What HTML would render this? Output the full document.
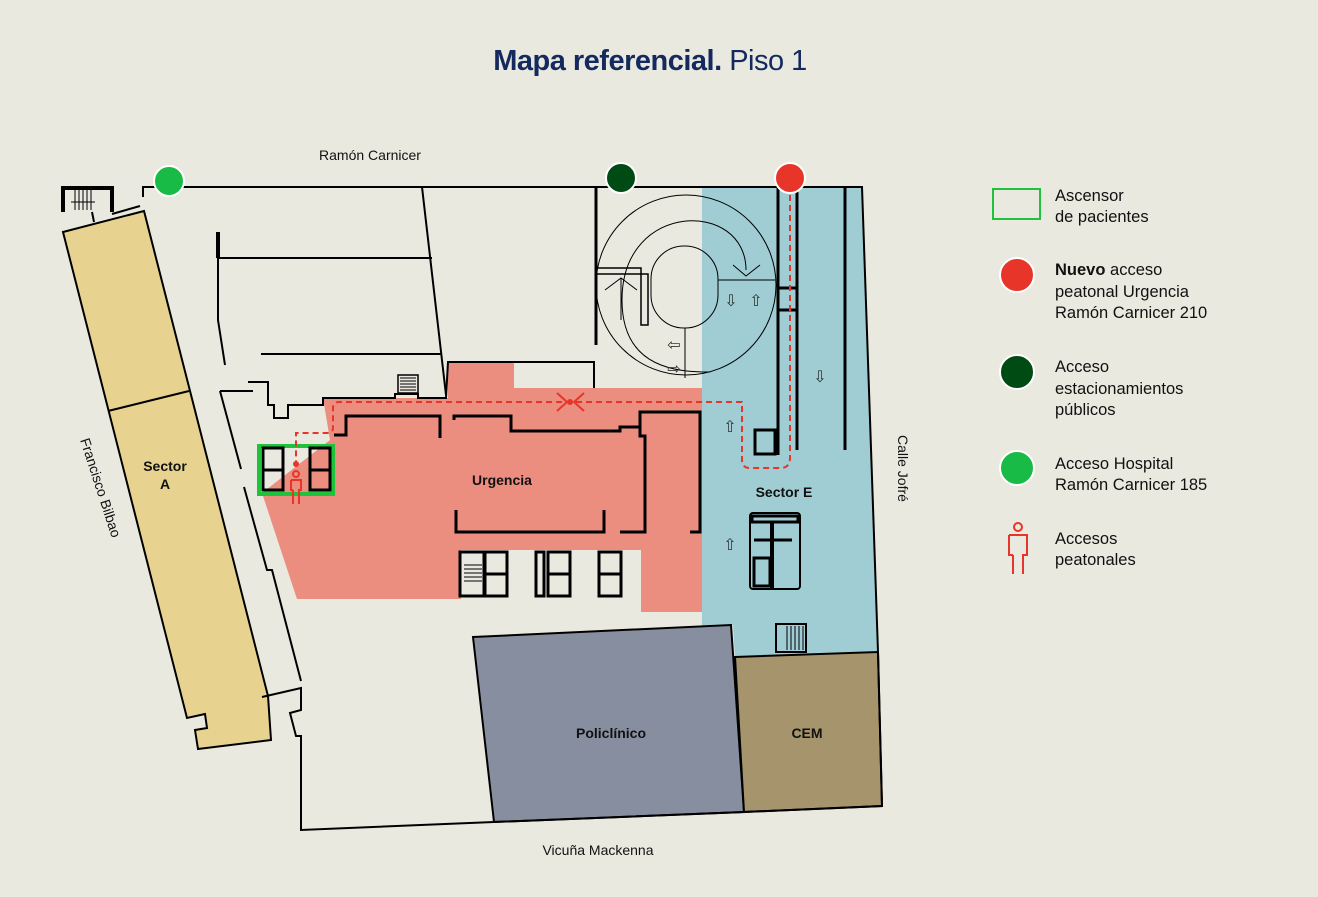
<!DOCTYPE html>
<html><head><meta charset="utf-8"><style>
body{margin:0;background:#eae9df;}
svg{display:block;font-family:"Liberation Sans",sans-serif;}
</style></head><body>
<svg width="1318" height="897" viewBox="0 0 1318 897" xmlns="http://www.w3.org/2000/svg">
<rect width="1318" height="897" fill="#eae9df"/>
<text x="650" y="70" text-anchor="middle" font-size="29" fill="#14295e" letter-spacing="-0.5"><tspan font-weight="bold">Mapa referencial.</tspan> Piso 1</text>

<!-- fills -->
<polygon points="63,232 144,211 268,696 271,740 198,749 195,730 207,728 205,714 187,718" fill="#e7d38f" stroke="#000" stroke-width="2"/>
<line x1="108" y1="411" x2="189" y2="391" stroke="#000" stroke-width="2"/>
<polygon points="323,398 448,398 448,362 514,362 514,388 702,388 702,612 641,612 641,550 461,550 461,599 297,599 262,493 330,440" fill="#eb8e80"/>
<polygon points="702,187 862,187 878,652 735,657 733,625 702,627" fill="#9fcdd3"/>
<path d="M702,195 A90,90 0 0 0 702,375 Z" fill="#eae9df"/>
<polygon points="473,637 731,625 744,812 494,822" fill="#878ea0" stroke="#000" stroke-width="2"/>
<polygon points="735,657 878,652 882,806 744,812" fill="#a6946c" stroke="#000" stroke-width="2"/>

<!-- outline -->
<g fill="none" stroke="#000" stroke-width="2">
<polyline points="143,197 143,187 862,187 878,652 882,806 744,812 494,822 301,830 301,736 296,736 290,713 301,710 301,688 262,697"/>
<polyline points="220,391 253,391"/>
<polyline points="220,391 241,469"/>
<polyline points="244,487 267,570 272,570 301,681"/>
<polyline points="422,187 446,395"/>
<polyline points="218,258 432,258"/>
<polyline points="218,258 218,320 225,365"/>
<polyline points="261,354 442,354"/>
<polyline points="248,382 268,382 268,405 274,405 274,418 288,418 288,405 323,405 323,398 395,398 395,394 418,394 418,398 446,398 448,362 594,362 594,388"/>
<rect x="398" y="375" width="20" height="18" stroke-width="1.5"/>
<path d="M400,378h16M400,381h16M400,384h16M400,387h16M400,390h16" stroke-width="1"/>
<line x1="596" y1="187" x2="596" y2="345" stroke-width="3"/>
<line x1="218" y1="232" x2="218" y2="258" stroke-width="4"/>
<polyline points="334,435 346,435 346,416 440,416 440,438" stroke-width="3"/>
<polyline points="454,420 454,416 511,416 511,431 620,431 620,427 640,427 640,412 700,412 700,532 690,532" stroke-width="3"/>
<polyline points="640,412 640,436 645,436 645,532 620,532" stroke-width="3"/>
<polyline points="456,510 456,532 604,532 604,510" stroke-width="3"/>
<g stroke-width="3">
<rect x="460" y="552" width="24" height="44"/><rect x="485" y="552" width="22" height="22"/><rect x="485" y="574" width="22" height="22"/>
<rect x="536" y="552" width="8" height="44"/><rect x="548" y="552" width="22" height="22"/><rect x="548" y="574" width="22" height="22"/>
<rect x="599" y="552" width="22" height="22"/><rect x="599" y="574" width="22" height="22"/>
</g>
<path d="M464,565h18M464,569h18M464,573h18M464,577h18M464,581h18" stroke-width="1"/>
<circle cx="686" cy="285" r="90" stroke-width="1"/>
<path d="M622,300 C622,200 746,200 746,270" stroke-width="1"/>
<path d="M622,300 C622,370 680,372 710,372" stroke-width="1"/>
<rect x="651" y="246" width="67" height="82" rx="33" stroke-width="1"/>
<polyline points="596,268 641,268 641,325 648,325 648,274 596,274" stroke-width="1.5"/>
<path d="M621,278 V320 M605,290 L621,278 L637,290" stroke-width="1"/>
<path d="M733,265 L746,276 L760,265" stroke-width="1"/>
<line x1="718" y1="280" x2="775" y2="280" stroke-width="1"/>
<line x1="685" y1="328" x2="685" y2="378" stroke-width="1"/>
<line x1="778" y1="187" x2="778" y2="455" stroke-width="3"/>
<line x1="797" y1="187" x2="797" y2="450" stroke-width="3"/>
<line x1="845" y1="187" x2="845" y2="450" stroke-width="3"/>
<line x1="778" y1="288" x2="797" y2="288" stroke-width="3"/>
<line x1="778" y1="310" x2="797" y2="310" stroke-width="3"/>
<rect x="755" y="430" width="20" height="24" stroke-width="3"/>
<rect x="750" y="513" width="50" height="76" rx="3" stroke-width="2"/>
<rect x="752" y="516" width="46" height="6" stroke-width="3"/>
<line x1="772" y1="522" x2="772" y2="588" stroke-width="4"/>
<line x1="754" y1="540" x2="792" y2="540" stroke-width="3"/>
<rect x="754" y="558" width="16" height="28" stroke-width="3"/>
<rect x="776" y="624" width="30" height="28" stroke-width="2"/>
<path d="M787,626v24M791,626v24M795,626v24M799,626v24M803,626v24" stroke-width="1"/>
</g>
<g fill="none" stroke="#000">
<polyline points="63,212 63,188 112,188 112,212" stroke-width="4"/>
<path d="M75,190v20M79,190v20M83,190v20M87,190v20M91,190v20M71,202h24" stroke-width="1"/>
<line x1="92" y1="212" x2="94" y2="222" stroke-width="2"/>
<line x1="112" y1="214" x2="140" y2="206" stroke-width="2"/>
</g>

<g font-size="16" fill="#333">
<text x="731" y="306" text-anchor="middle">⇩</text>
<text x="756" y="306" text-anchor="middle">⇧</text>
<text x="820" y="382" text-anchor="middle">⇩</text>
<text x="730" y="432" text-anchor="middle">⇧</text>
<text x="730" y="550" text-anchor="middle">⇧</text>
<text x="674" y="350" text-anchor="middle">⇦</text>
<text x="674" y="374" text-anchor="middle">⇨</text>
</g>

<rect x="259" y="446" width="74" height="48" fill="none" stroke="#1ec23c" stroke-width="4"/>
<g fill="none" stroke="#000" stroke-width="3"><rect x="263" y="448" width="20" height="42"/><line x1="263" y1="470" x2="283" y2="470"/><rect x="310" y="448" width="20" height="42"/><line x1="310" y1="470" x2="330" y2="470"/></g>

<g fill="none" stroke="#e8352a" stroke-width="2" stroke-dasharray="6,4">
<path d="M790,185 V458 Q790,468 780,468 H750 Q742,468 742,460 V402 H339 Q333,402 333,408 V428 Q333,433 327,433 H296 V462"/>
</g>
<g fill="none" stroke="#e8352a" stroke-width="2"><path d="M557,393 L567,402 L557,411 M584,393 L574,402 L584,411"/></g>
<circle cx="570" cy="402" r="3" fill="#e8352a"/>
<circle cx="296" cy="464" r="3" fill="#e8352a"/>
<g fill="none" stroke="#e8352a" stroke-width="2"><circle cx="296" cy="474" r="3"/><path d="M291,480h10v10h-2v14M293,490v14M291,480v10h2"/></g>

<circle cx="169" cy="181" r="15" fill="#17bb45" stroke="#fff" stroke-width="2"/>
<circle cx="621" cy="178" r="15" fill="#004a14" stroke="#fff" stroke-width="2"/>
<circle cx="790" cy="178" r="15" fill="#e8352a" stroke="#fff" stroke-width="2"/>

<g font-size="14" fill="#111">
<text x="370" y="160" text-anchor="middle">Ramón Carnicer</text>
<text x="598" y="855" text-anchor="middle">Vicuña Mackenna</text>
<text transform="translate(80,440) rotate(72)">Francisco Bilbao</text>
<text transform="translate(898,435) rotate(90)">Calle Jofré</text>
</g>
<g font-size="14" font-weight="bold" fill="#111" text-anchor="middle">
<text x="165" y="471">Sector</text><text x="165" y="489">A</text>
<text x="502" y="485">Urgencia</text>
<text x="784" y="497">Sector E</text>
<text x="611" y="738">Policlínico</text>
<text x="807" y="738">CEM</text>
</g>

<rect x="993" y="189" width="47" height="30" fill="none" stroke="#1ec23c" stroke-width="2"/>
<circle cx="1017" cy="275" r="17" fill="#e8352a" stroke="#fff" stroke-width="2"/>
<circle cx="1017" cy="372" r="17" fill="#004a14" stroke="#fff" stroke-width="2"/>
<circle cx="1017" cy="468" r="17" fill="#17bb45" stroke="#fff" stroke-width="2"/>
<g fill="none" stroke="#e8352a" stroke-width="2"><circle cx="1018" cy="527" r="4"/><path d="M1009,535h18v20h-4v19M1013,555v19M1009,535v20h4"/></g>
<g font-size="16.5" fill="#111">
<text x="1055" y="201">Ascensor</text><text x="1055" y="222">de pacientes</text>
<text x="1055" y="275"><tspan font-weight="bold">Nuevo</tspan> acceso</text><text x="1055" y="297">peatonal Urgencia</text><text x="1055" y="318">Ramón Carnicer 210</text>
<text x="1055" y="372">Acceso</text><text x="1055" y="394">estacionamientos</text><text x="1055" y="415">públicos</text>
<text x="1055" y="469">Acceso Hospital</text><text x="1055" y="490">Ramón Carnicer 185</text>
<text x="1055" y="544">Accesos</text><text x="1055" y="565">peatonales</text>
</g>
</svg>
</body></html>
